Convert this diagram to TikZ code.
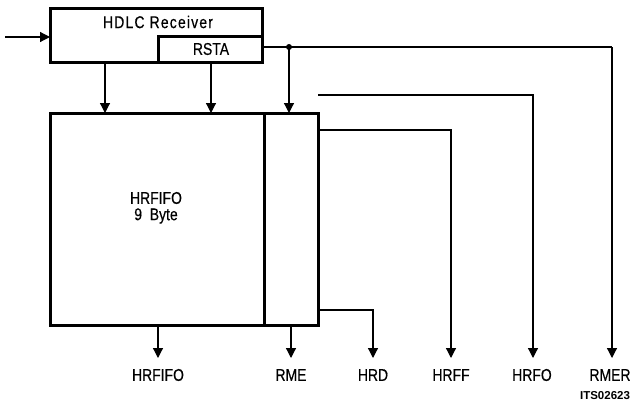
\documentclass[tikz,border=0pt]{standalone}
\usepackage{fontspec}
\setmainfont{Liberation Sans}[FakeStretch=0.82,FakeBold=0.4]
\newfontfamily\widefont{Liberation Sans}[FakeStretch=0.82,FakeBold=0.4,LetterSpace=7]
\newfontfamily\notefont{Liberation Sans}
\usetikzlibrary{arrows.meta}
\begin{document}
\begin{tikzpicture}[x=1pt,y=-1pt,
  blk/.style={draw,line width=3pt,rectangle,inner sep=0pt,outer sep=0pt},
  wire/.style={draw,line width=1.2pt},
  arr/.style={wire,-{Triangle[length=10pt,width=10pt]}},
  lbl/.style={font=\fontsize{17}{19}\selectfont,inner sep=0pt},
  note/.style={font=\notefont\bfseries\fontsize{11.5}{13}\selectfont,inner sep=0pt}]
\useasboundingbox (0,0) rectangle (632,405);
% blocks
\node[blk,minimum width=212pt,minimum height=54pt] (rx) at (156,35) {};
\node[lbl,font=\widefont\fontsize{17}{19}\selectfont] (rxt) at (158,22) {HDLC Receiver};
\node[blk,minimum width=104pt,minimum height=26pt] (rsta) at (210,49) {};
\node[lbl] at (211,49) {RSTA};
\node[blk,minimum width=214pt,minimum height=212pt] (fifo) at (157,219) {};
\node[blk,minimum width=54pt,minimum height=212pt] (st) at (291,219) {};
\node[lbl] (f1) at (156,198) {HRFIFO};
\node[lbl] (f2) at (156,216) {9\ \ Byte};
% labels
\node[lbl] (lHRFIFO) at (158,375) {HRFIFO};
\node[lbl] (lRME) at (291,375) {RME};
\node[lbl] (lHRD) at (373,375) {HRD};
\node[lbl] (lHRFF) at (451,375) {HRFF};
\node[lbl] (lHRFO) at (532,375) {HRFO};
\node[lbl] (lRMER) at (610,375) {RMER};
\node[note] (its) at (605,396) {ITS02623};
% coordinates
\coordinate (in) at (5,37);
\coordinate (dot) at (289,47);
\coordinate (c1) at (612,47);
\coordinate (t1) at (612,358);
\coordinate (s2) at (318,95);
\coordinate (c2) at (533,95);
\coordinate (t2) at (533,358);
\coordinate (c3) at (451,130);
\coordinate (t3) at (451,358);
\coordinate (c4) at (373,310);
\coordinate (t4) at (373,358);
% connectors
\draw[arr] (in) -- (in -| rx.west);
\draw[arr] (105,62) -- (105,113);
\draw[arr] (211,62) -- (211,113);
\draw[wire] (rsta.east |- dot) -- (dot) -- (c1);
\draw[arr] (c1) -- (t1);
\fill (dot) circle (3pt);
\draw[arr] (dot) -- (dot |- st.north);
\draw[arr] (s2) -- (c2) -- (t2);
\draw[arr] (st.east |- c3) -- (c3) -- (t3);
\draw[arr] (st.east |- c4) -- (c4) -- (t4);
\draw[arr] (st.south) -- (291,358);
\draw[arr] (158,325) -- (158,358);
\end{tikzpicture}
\end{document}
